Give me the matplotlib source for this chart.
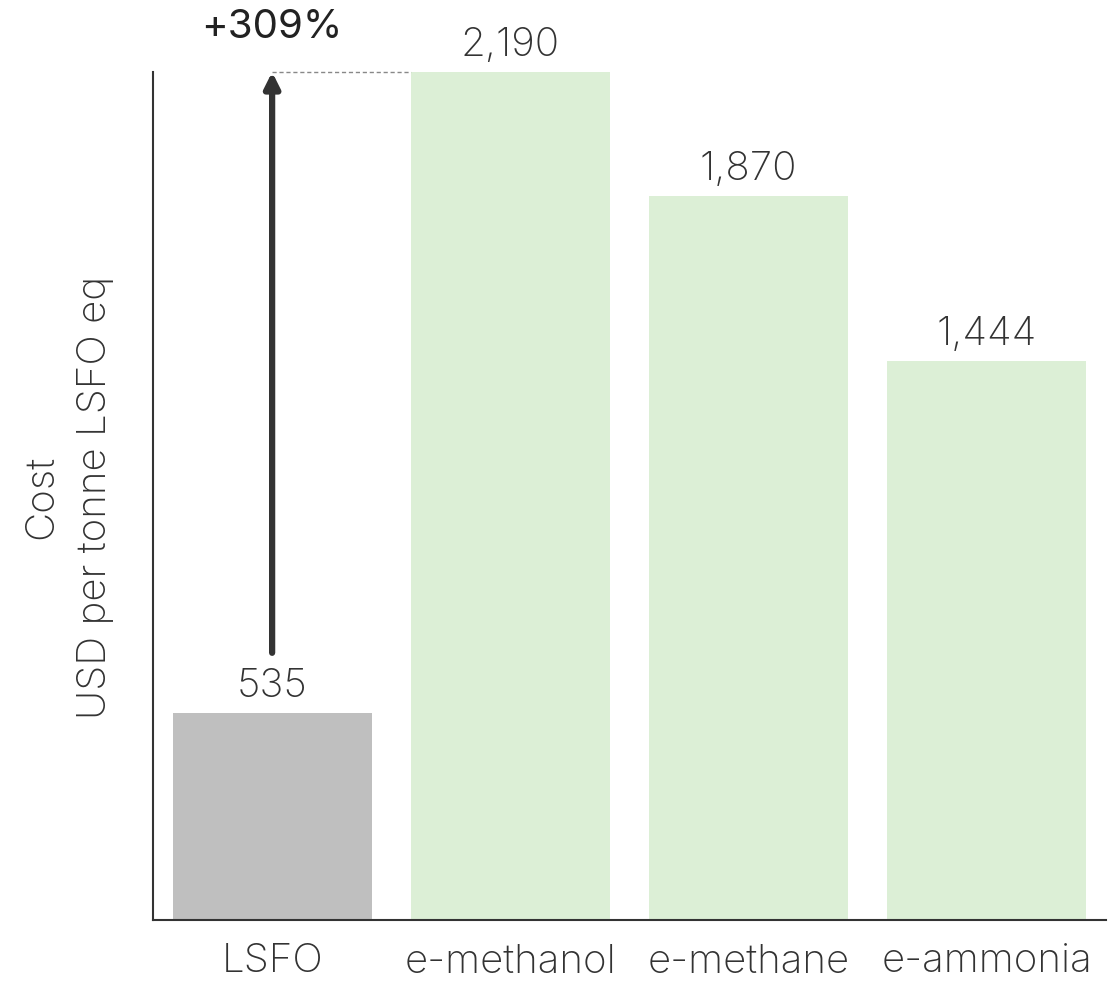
import matplotlib
matplotlib.use('Agg')
import matplotlib.pyplot as plt

# data
fuels = ['LSFO', 'e-methanol', 'e-methane', 'e-ammonia']
costs = [535, 2190, 1870, 1444]
bar_colors = ['#bfbfbf', '#dcefd6', '#dcefd6', '#dcefd6']
increase_label = '+309%'

plt.rcParams['font.family'] = ['Inter', 'DejaVu Sans']
text_color = '#333333'
fs = 29

fig = plt.figure(figsize=(11.12, 9.87), dpi=100)
ax = fig.add_axes([153 / 1112, 66 / 987, 953 / 1112, 848 / 987])

x = range(len(fuels))
ax.bar(x, costs, width=0.835, color=bar_colors)
ax.set_xlim(-0.5, len(fuels) - 0.5)
ax.set_ylim(0, max(costs))

# value labels
for i, v in enumerate(costs):
    ax.annotate(f'{v:,}', (i, v), xytext=(0, 12), textcoords='offset points',
                ha='center', va='baseline', fontsize=fs, fontweight='light',
                color=text_color, annotation_clip=False)

# arrow from LSFO up to e-methanol level
top = costs[1]
ax.annotate('', xy=(0, top), xytext=(0, costs[0] + 155),
            arrowprops=dict(arrowstyle='-|>,head_width=0.45,head_length=0.9',
                            lw=4.5, color=text_color, shrinkA=0, shrinkB=0),
            annotation_clip=False)
ax.plot([0, 1 - 0.835 / 2], [top, top], ls=(0, (3, 2)), lw=1, color='#888888',
        clip_on=False)
ax.annotate(increase_label, (0, top), xytext=(0, 25), textcoords='offset points',
            ha='center', va='baseline', fontsize=fs, color='#222222',
            annotation_clip=False)

# axes styling
for s in ['top', 'right']:
    ax.spines[s].set_visible(False)
ax.spines['left'].set_color(text_color)
ax.spines['bottom'].set_color(text_color)
ax.spines['left'].set_linewidth(1.5)
ax.spines['bottom'].set_linewidth(1.5)
ax.set_yticks([])
ax.set_xticks(list(x))
ax.set_xticklabels(fuels, fontsize=fs, fontweight='light', color=text_color)
ax.tick_params(axis='x', length=0, pad=16)
ax.set_ylabel('Cost\nUSD per tonne LSFO eq', fontsize=fs, fontweight='light',
              color=text_color, linespacing=1.6, labelpad=28)

fig.savefig('out.png', dpi=100)
